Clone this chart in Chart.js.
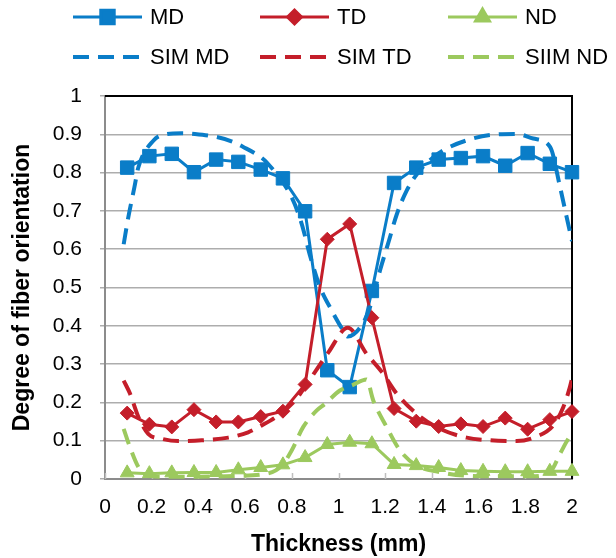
<!DOCTYPE html>
<html><head><meta charset="utf-8">
<script src="https://cdn.jsdelivr.net/npm/chart.js@4.4.0/dist/chart.umd.min.js"></script>
<style>html,body{margin:0;padding:0;background:#fff;} #wrap{width:616px;height:558px;position:relative;}</style>
</head><body><div id="wrap"><canvas id="c" width="616" height="558"></canvas></div>
<script>
// ---- data ----
const thickness = [0.095,0.190,0.286,0.381,0.476,0.571,0.667,0.762,0.857,0.952,1.048,1.143,1.238,1.333,1.429,1.524,1.619,1.714,1.810,1.905,2.000];
const mdValues = [0.813,0.843,0.849,0.801,0.834,0.828,0.808,0.785,0.699,0.284,0.240,0.491,0.773,0.813,0.834,0.838,0.843,0.818,0.851,0.823,0.801];
const tdValues = [0.172,0.143,0.136,0.181,0.149,0.149,0.163,0.177,0.247,0.626,0.666,0.421,0.184,0.151,0.137,0.144,0.137,0.159,0.130,0.155,0.176];
const ndValues = [0.016,0.014,0.016,0.017,0.017,0.024,0.030,0.037,0.056,0.090,0.096,0.092,0.038,0.035,0.030,0.022,0.020,0.019,0.019,0.020,0.020];

const simMdX = [0.080,0.100,0.126,0.143,0.208,0.250,0.328,0.385,0.478,0.549,0.592,0.656,0.692,0.799,0.842,0.880,0.921,0.971,1.020,1.040,1.099,1.135,1.178,1.215,1.249,1.292,1.342,1.406,1.448,1.548,1.663,1.763,1.834,1.906,1.949,1.977,2.000];
const simMdY = [0.613,0.684,0.762,0.814,0.884,0.899,0.903,0.901,0.893,0.880,0.867,0.845,0.827,0.736,0.667,0.579,0.501,0.440,0.388,0.372,0.401,0.449,0.545,0.620,0.690,0.753,0.801,0.840,0.858,0.884,0.899,0.901,0.889,0.867,0.762,0.684,0.621];

const simTdX = [0.080,0.107,0.143,0.185,0.243,0.314,0.414,0.528,0.613,0.671,0.742,0.814,0.880,0.956,1.040,1.120,1.185,1.249,1.335,1.435,1.549,1.649,1.763,1.849,1.920,1.963,1.991,2.000];
const simTdY = [0.257,0.223,0.162,0.118,0.105,0.099,0.101,0.108,0.122,0.140,0.166,0.205,0.262,0.330,0.395,0.327,0.280,0.223,0.170,0.131,0.108,0.101,0.099,0.111,0.140,0.188,0.240,0.262];

const simNdX = [0.080,0.107,0.143,0.170,0.250,0.400,0.550,0.700,0.757,0.800,0.849,0.907,0.942,1.006,1.060,1.120,1.149,1.206,1.263,1.335,1.435,1.534,1.677,1.820,1.906,1.949,1.984,2.000];
const simNdY = [0.131,0.083,0.031,0.012,0.006,0.006,0.008,0.015,0.035,0.075,0.136,0.179,0.196,0.231,0.245,0.260,0.205,0.136,0.075,0.035,0.018,0.009,0.007,0.007,0.018,0.066,0.105,0.118];

const xTickValues = [0,0.2,0.4,0.6,0.8,1,1.2,1.4,1.6,1.8,2];
const xTickLabels = ['0','0.2','0.4','0.6','0.8','1','1.2','1.4','1.6','1.8','2'];
const yTickValues = [0,0.1,0.2,0.3,0.4,0.5,0.6,0.7,0.8,0.9,1];
const yTickLabels = ['0','0.1','0.2','0.3','0.4','0.5','0.6','0.7','0.8','0.9','1'];

const seriesNames = ['MD','TD','ND','SIM MD','SIM TD','SIIM ND'];

// ---- styles ----
const BLUE = '#0A7DC8', RED = '#C41E2A', GREEN = '#9CC95E';
const FONT = '"Liberation Sans", Arial, sans-serif';

function pts(xs, ys){ return xs.map((x,i)=>({x:x, y:ys[i]})); }

const datasets = [
  {label:seriesNames[0], data:pts(thickness, mdValues), borderColor:BLUE, backgroundColor:BLUE, borderWidth:3, tension:0,
   pointStyle:'rect', pointRadius:9.5, pointBorderWidth:1, pointBackgroundColor:BLUE, pointBorderColor:BLUE, order:6, clip:false},
  {label:seriesNames[1], data:pts(thickness, tdValues), borderColor:RED, backgroundColor:RED, borderWidth:3, tension:0,
   pointStyle:'rectRot', pointRadius:7, pointBorderWidth:1, pointBackgroundColor:RED, pointBorderColor:RED, order:5, clip:false},
  {label:seriesNames[2], data:pts(thickness, ndValues), borderColor:GREEN, backgroundColor:GREEN, borderWidth:3, tension:0,
   pointStyle:'triangle', pointRadius:8, pointBorderWidth:1, pointBackgroundColor:GREEN, pointBorderColor:GREEN, order:4, clip:false},
  {label:seriesNames[3], data:pts(simMdX, simMdY), borderColor:BLUE, borderWidth:4, borderDash:[16,9], pointRadius:0,
   tension:0.4, cubicInterpolationMode:'monotone', order:3},
  {label:seriesNames[4], data:pts(simTdX, simTdY), borderColor:RED, borderWidth:4, borderDash:[16,9], pointRadius:0,
   tension:0.4, cubicInterpolationMode:'monotone', order:2},
  {label:seriesNames[5], data:pts(simNdX, simNdY), borderColor:GREEN, borderWidth:4, borderDash:[16,9], pointRadius:0,
   tension:0.4, cubicInterpolationMode:'monotone', order:1}
];

const framePlugin = {
  id:'frame',
  beforeDatasetsDraw(chart){
    const {ctx, chartArea:a, scales} = chart;
    ctx.save();
    ctx.strokeStyle = '#BFBFBF'; ctx.lineWidth = 1.5;
    xTickValues.forEach(v=>{
      const px = Math.round(scales.x.getPixelForValue(v))+0.5;
      ctx.beginPath(); ctx.moveTo(px, a.bottom); ctx.lineTo(px, a.bottom-6); ctx.stroke();
    });
    ctx.strokeStyle = '#000'; ctx.lineWidth = 2;
    ctx.beginPath(); ctx.moveTo(a.left, a.top); ctx.lineTo(a.right, a.top); ctx.lineTo(a.right, a.bottom); ctx.stroke();
    ctx.restore();
  }
};

const legendPos = [[73,17],[260,17],[448,17],[73,57],[260,57],[448,57]];
const legendPlugin = {
  id:'customLegend',
  afterDraw(chart){
    const ctx = chart.ctx;
    ctx.save();
    chart.data.datasets.forEach((ds,i)=>{
      const [x,y] = legendPos[i];
      ctx.strokeStyle = ds.borderColor; ctx.lineWidth = ds.borderDash ? 4 : 3;
      ctx.setLineDash(ds.borderDash || []);
      ctx.beginPath(); ctx.moveTo(x, y); ctx.lineTo(x+69, y); ctx.stroke();
      ctx.setLineDash([]);
      if (ds.pointRadius > 0) {
        ctx.fillStyle = ds.pointBackgroundColor; ctx.strokeStyle = ds.pointBorderColor;
        Chart.helpers.drawPoint(ctx, {pointStyle: ds.pointStyle, radius: ds.pointRadius, rotation:0, borderWidth: ds.pointBorderWidth}, x+34.5, y);
      }
      ctx.fillStyle = '#000'; ctx.font = '22px ' + FONT; ctx.textBaseline = 'middle'; ctx.textAlign = 'left';
      ctx.fillText(ds.label, x+77, y+1);
    });
    ctx.restore();
  }
};

new Chart(document.getElementById('c'), {
  type:'line',
  data:{datasets},
  options:{
    responsive:false, animation:false, devicePixelRatio:1,
    layout:{padding:{top:96, right:44, left:0, bottom:0}},
    plugins:{legend:{display:false}, tooltip:{enabled:false}},
    scales:{
      x:{type:'linear', min:0, max:2,
        afterBuildTicks(s){ s.ticks = xTickValues.map(v=>({value:v})); },
        afterFit(s){ s.height = 79; },
        ticks:{callback:(v,i)=>xTickLabels[i], color:'#000', font:{family:FONT, size:21}, padding:16, maxRotation:0, autoSkip:false},
        grid:{display:false, drawTicks:false},
        border:{display:true, color:'#8C8C8C', width:2},
        title:{display:true, text:'Thickness (mm)', color:'#000', font:{family:FONT, size:23, weight:'bold', lineHeight:1.0}, padding:{top:0,bottom:2}}
      },
      y:{type:'linear', min:0, max:1,
        afterBuildTicks(s){ s.ticks = yTickValues.map(v=>({value:v})); },
        afterFit(s){ s.width = 105; },
        ticks:{callback:(v,i)=>yTickLabels[i], color:'#000', font:{family:FONT, size:21}, padding:18},
        grid:{color:'#ADADAD', lineWidth:1.5, tickLength:5, drawTicks:true},
        border:{display:true, color:'#8C8C8C', width:2},
        title:{display:true, text:'Degree of fiber orientation', color:'#000', font:{family:FONT, size:23, weight:'bold', lineHeight:1.0}, padding:{top:11,bottom:0}}
      }
    }
  },
  plugins:[framePlugin, legendPlugin]
});
</script></body></html>
